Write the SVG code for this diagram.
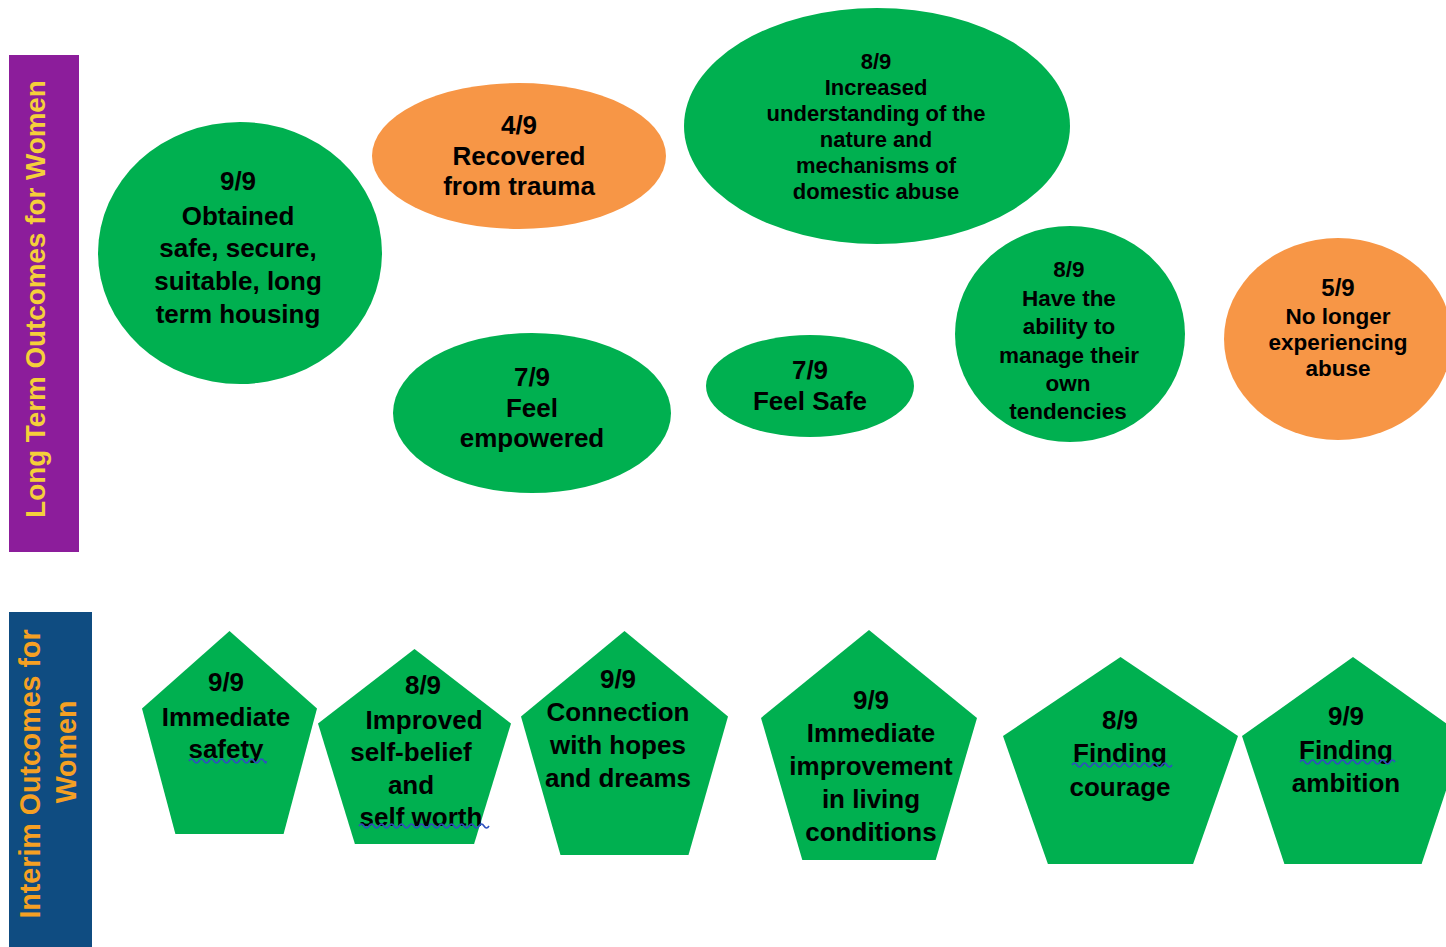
<svg xmlns="http://www.w3.org/2000/svg" width="1446" height="947" viewBox="0 0 1446 947">
<style>
.g{fill:#00B050}
.o{fill:#F79646}
.t{font-family:"Liberation Sans",Arial,sans-serif;font-weight:bold;fill:#000;text-anchor:middle}
.f26{font-size:26px}
.f22{font-size:22px}
.f225{font-size:22.5px}
.wave{fill:none;stroke:#2F4FBF;stroke-width:1.6}
</style>
<rect width="1446" height="947" fill="#fff"/>
<g id="band-long-term">
<rect x="9" y="55" width="70" height="497" fill="#8C1D9B"/>
<text transform="translate(45 299) rotate(-90)" text-anchor="middle" font-family="Liberation Sans, Arial, sans-serif" font-weight="bold" font-size="27.8" fill="#F5CF3A">Long Term Outcomes for Women</text>
</g>
<g id="band-interim">
<rect x="9" y="612" width="83" height="335" fill="#0F4C81"/>
<text transform="translate(40 774) rotate(-90)" text-anchor="middle" font-family="Liberation Sans, Arial, sans-serif" font-weight="bold" font-size="28.6" fill="#F5A023">Interim Outcomes for</text>
<text transform="translate(76 752) rotate(-90)" text-anchor="middle" font-family="Liberation Sans, Arial, sans-serif" font-weight="bold" font-size="28.6" fill="#F5A023">Women</text>
</g>
<g id="lt-housing">
<ellipse class="g" cx="240" cy="253" rx="142" ry="131"/>
<text class="t f26"><tspan x="238" y="190">9/9</tspan><tspan x="238" y="225">Obtained</tspan><tspan x="238" y="257">safe, secure,</tspan><tspan x="238" y="290">suitable, long</tspan><tspan x="238" y="323">term housing</tspan></text>
</g>
<g id="lt-trauma">
<ellipse class="o" cx="519" cy="156" rx="147" ry="73"/>
<text class="t f26"><tspan x="519" y="134">4/9</tspan><tspan x="519" y="165">Recovered</tspan><tspan x="519" y="195">from trauma</tspan></text>
</g>
<g id="lt-understanding">
<ellipse class="g" cx="877" cy="126" rx="193" ry="118"/>
<text class="t f22"><tspan x="876" y="69">8/9</tspan><tspan x="876" y="95">Increased</tspan><tspan x="876" y="121">understanding of the</tspan><tspan x="876" y="147">nature and</tspan><tspan x="876" y="173">mechanisms of</tspan><tspan x="876" y="199">domestic abuse</tspan></text>
</g>
<g id="lt-empowered">
<ellipse class="g" cx="532" cy="413" rx="139" ry="80"/>
<text class="t f26"><tspan x="532" y="386">7/9</tspan><tspan x="532" y="417">Feel</tspan><tspan x="532" y="447">empowered</tspan></text>
</g>
<g id="lt-safe">
<ellipse class="g" cx="810" cy="386" rx="104" ry="51"/>
<text class="t f26"><tspan x="810" y="379">7/9</tspan><tspan x="810" y="410">Feel Safe</tspan></text>
</g>
<g id="lt-manage">
<ellipse class="g" cx="1070" cy="334" rx="115" ry="108"/>
<text class="t f225"><tspan x="1069" y="277">8/9</tspan><tspan x="1069" y="306">Have the</tspan><tspan x="1069" y="334">ability to</tspan><tspan x="1069" y="363">manage their</tspan><tspan x="1068" y="391">own</tspan><tspan x="1068" y="419">tendencies</tspan></text>
</g>
<g id="lt-no-abuse">
<ellipse class="o" cx="1338" cy="339" rx="114" ry="101"/>
<text class="t f225"><tspan x="1338" y="296" font-size="24">5/9</tspan><tspan x="1338" y="324">No longer</tspan><tspan x="1338" y="350">experiencing</tspan><tspan x="1338" y="376">abuse</tspan></text>
</g>
<g id="int-safety">
<polygon class="g" points="229.5,631 317,708.5 283.6,834 175.4,834 142,708.5"/>
<text class="t f26"><tspan x="226" y="691">9/9</tspan><tspan x="226" y="726">Immediate</tspan><tspan x="226" y="758">safety</tspan></text>
<path class="wave" d="M189 761 q2.5 -4 5 0 t5 0 t5 0 t5 0 t5 0 t5 0 t5 0 t5 0 t5 0 t5 0 t5 0 t5 0 t5 0 t5 0 t5 0 t2 0"/>
</g>
<g id="int-selfbelief">
<polygon class="g" points="414.5,649 511,723.5 474.1,844 354.9,844 318,723.5"/>
<text class="t f26"><tspan x="423" y="694">8/9</tspan><tspan x="424" y="729">Improved</tspan><tspan x="411" y="761">self-belief</tspan><tspan x="411" y="794">and</tspan><tspan x="421" y="826">self worth</tspan></text>
<path class="wave" d="M359 826 q2.5 -4 5 0 t5 0 t5 0 t5 0 t5 0 t5 0 t5 0 t5 0 t5 0 t5 0 t5 0 t5 0 t5 0 t5 0 t5 0 t5 0 t5 0 t5 0 t5 0 t5 0 t5 0 t5 0 t5 0 t5 0 t5 0 t5 0"/>
</g>
<g id="int-hopes">
<polygon class="g" points="624.5,631 728,716.6 688.5,855 560.5,855 521,716.6"/>
<text class="t f26"><tspan x="618" y="688">9/9</tspan><tspan x="618" y="721">Connection</tspan><tspan x="618" y="754">with hopes</tspan><tspan x="618" y="787">and dreams</tspan></text>
</g>
<g id="int-living">
<polygon class="g" points="869,630 977,717.9 935.7,860 802.3,860 761,717.9"/>
<text class="t f26"><tspan x="871" y="709">9/9</tspan><tspan x="871" y="742">Immediate</tspan><tspan x="871" y="775">improvement</tspan><tspan x="871" y="808">in living</tspan><tspan x="871" y="841">conditions</tspan></text>
</g>
<g id="int-courage">
<polygon class="g" points="1120.5,657 1238,736.1 1193.1,864 1047.9,864 1003,736.1"/>
<text class="t f26"><tspan x="1120" y="729">8/9</tspan><tspan x="1120" y="762">Finding</tspan><tspan x="1120" y="796">courage</tspan></text>
<path class="wave" d="M1072 765 q2.5 -4 5 0 t5 0 t5 0 t5 0 t5 0 t5 0 t5 0 t5 0 t5 0 t5 0 t5 0 t5 0 t5 0 t5 0 t5 0 t5 0 t5 0 t5 0 t5 0 t5 0"/>
</g>
<g id="int-ambition">
<polygon class="g" points="1353,657 1464,736.1 1421.6,864 1284.4,864 1242,736.1"/>
<text class="t f26"><tspan x="1346" y="725">9/9</tspan><tspan x="1346" y="759">Finding</tspan><tspan x="1346" y="792">ambition</tspan></text>
<path class="wave" d="M1300 762 q2.5 -4 5 0 t5 0 t5 0 t5 0 t5 0 t5 0 t5 0 t5 0 t5 0 t5 0 t5 0 t5 0 t5 0 t5 0 t5 0 t5 0 t5 0 t5 0 t5 0"/>
</g>
<g id="connectors"></g>
</svg>
